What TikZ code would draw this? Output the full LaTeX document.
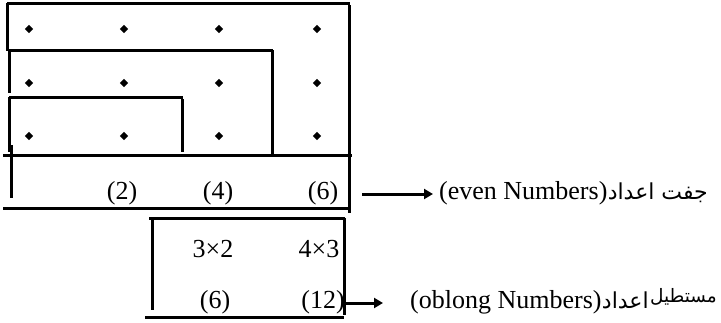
\documentclass[tikz,border=0pt]{standalone}
\usepackage{fontspec}
\setmainfont{Liberation Serif}
\newfontfamily\urdufont[Script=Arabic]{DejaVu Sans}
\TeXXeTstate=1
\usetikzlibrary{arrows.meta}

\begin{document}
\begin{tikzpicture}[x=1pt,y=-1pt,
  rule/.style={line width=3pt},
  lbl/.style={inner sep=0pt,font=\fontsize{26}{30}\selectfont},
  urdu/.style={inner sep=0pt,font=\urdufont\fontsize{22}{26}\selectfont},
  urdusmall/.style={inner sep=0pt,font=\urdufont\fontsize{18.5}{22}\selectfont},
  pointer/.style={line width=3pt,-{Triangle[length=9pt,width=10pt]}}]
\useasboundingbox (0,0) rectangle (721,322);

% nested rectangles of dots
\draw[rule] (7,3) -- (350,3);
\draw[rule] (7,3) -- (7,51);
\draw[rule] (349,5) -- (349,156);
\draw[rule] (8,50) -- (273,50);
\draw[rule] (272,50) -- (272,154);
\draw[rule] (9,50) -- (9,93);
\draw[rule] (9,97) -- (183,97);
\draw[rule] (182,99) -- (182,152);
\draw[rule] (9,97) -- (9,152);
\draw[rule] (3,155) -- (352,155);

% row of even numbers
\draw[rule] (11,145) -- (11,198);
\draw[rule] (349,157) -- (349,213);
\draw[rule] (3,208) -- (349,208);

% box of oblong numbers
\draw[rule] (149,218) -- (345,218);
\draw[rule] (152,220) -- (152,310);
\draw[rule] (344,218) -- (344,315);
\draw[rule] (145,317) -- (344,317);

% dots
\foreach \x in {29,124,219,317}
  \foreach \y in {29,83,136}
    \fill (\x,\y-4.2) -- (\x+4.2,\y) -- (\x,\y+4.2) -- (\x-4.2,\y) -- cycle;

% numbers
\node[lbl,anchor=base] (e2) at (122,199) {(2)};
\node[lbl,anchor=base] (e4) at (218,199) {(4)};
\node[lbl,anchor=base] (e6) at (323,199) {(6)};
\node[lbl,anchor=base] (m32) at (213,257) {3×2};
\node[lbl,anchor=base] (m43) at (319,257) {4×3};
\node[lbl,anchor=base] (o6) at (215,308) {(6)};
\node[lbl,anchor=base] (o12) at (323,308) {(12)};

% labels
\node[lbl,anchor=base west] (evenlbl) at (439,199) {(even Numbers)};
\node[urdu,anchor=base west] (evenur) at (evenlbl.base east) {\beginR جفت اعداد\endR};
\node[lbl,anchor=base west] (oblonglbl) at (410,308) {(oblong Numbers)};
\node[urdu,anchor=base west] (oblongur) at (oblonglbl.base east) {\beginR اعداد\endR};
\node[urdusmall,anchor=base west] (oblongadj) at ([xshift=1pt,yshift=6pt]oblongur.base east) {\beginR مستطیل\endR};

% pointers
\coordinate (evenfrom) at (362,194);
\coordinate (evento) at (433,194);
\coordinate (oblongfrom) at (345,303);
\coordinate (oblongto) at (383,303);
\draw[pointer] (evenfrom) -- (evento);
\draw[pointer] (oblongfrom) -- (oblongto);
\end{tikzpicture}
\end{document}
